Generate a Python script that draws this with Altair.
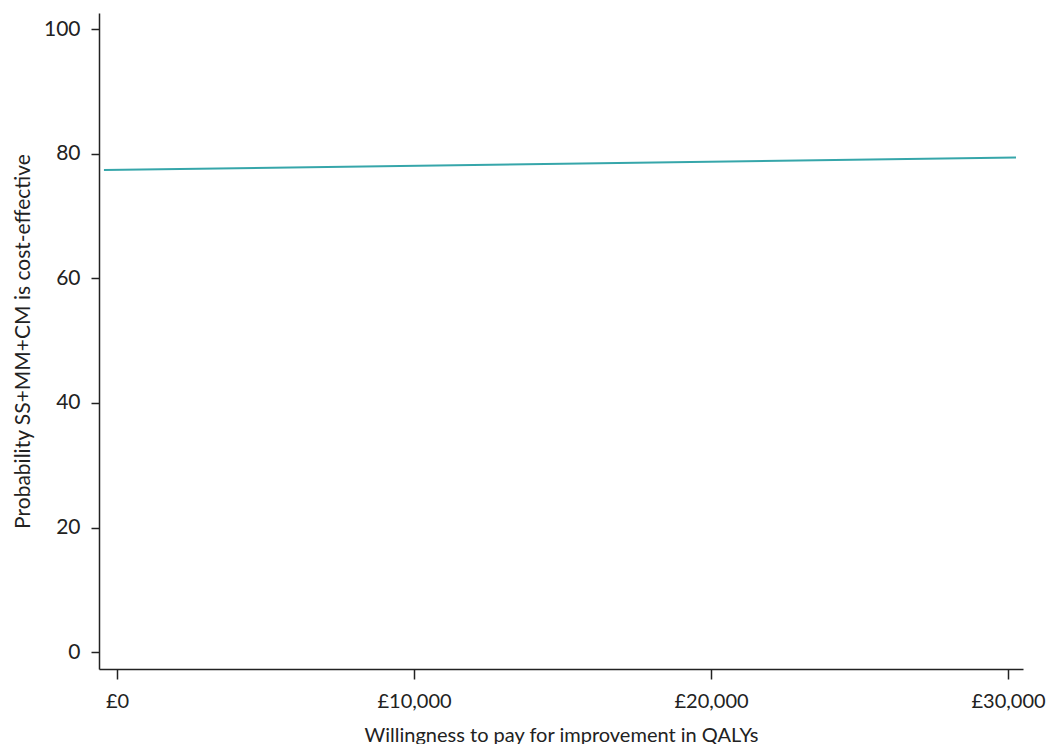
import altair as alt
import pandas as pd

wtp = [-440, 30270]
prob = [77.4, 79.4]
x_ticks = [0, 10000, 20000, 30000]
y_ticks = [0, 20, 40, 60, 80, 100]

df = pd.DataFrame({"wtp": wtp, "prob": prob})

font = "Lato"
common = dict(grid=False, domainColor="#222", tickColor="#222", domainWidth=1.5, tickWidth=1.5,
              labelFont=font, titleFont=font,
              labelColor="#222", titleColor="#222", titleFontWeight="normal")

chart = alt.Chart(df).mark_line(color="#36a6aa", strokeWidth=2).encode(
    x=alt.X("wtp:Q", scale=alt.Scale(domain=[-606, 30505], nice=False, zero=False),
            axis=alt.Axis(values=x_ticks, labelExpr="'£' + format(datum.value, ',')",
                          title="Willingness to pay for improvement in QALYs",
                          titleFontSize=20, labelFontSize=20,
                          tickSize=10, labelPadding=12, titlePadding=14, **common)),
    y=alt.Y("prob:Q", scale=alt.Scale(domain=[-2.7, 102.6], nice=False, zero=False),
            axis=alt.Axis(values=y_ticks, title="Probability SS+MM+CM is cost-effective",
                          titleFontSize=21, labelFontSize=21,
                          tickSize=8, labelPadding=11, titlePadding=10, **common)),
).properties(
    width=924, height=656,
    autosize=alt.AutoSizeParams(type="none"),
    padding={"left": 91, "top": 5, "right": 23, "bottom": 75},
    background="white",
).configure_view(stroke=None)

chart.save("out.html", embed_options={"renderer": "svg", "actions": False})
